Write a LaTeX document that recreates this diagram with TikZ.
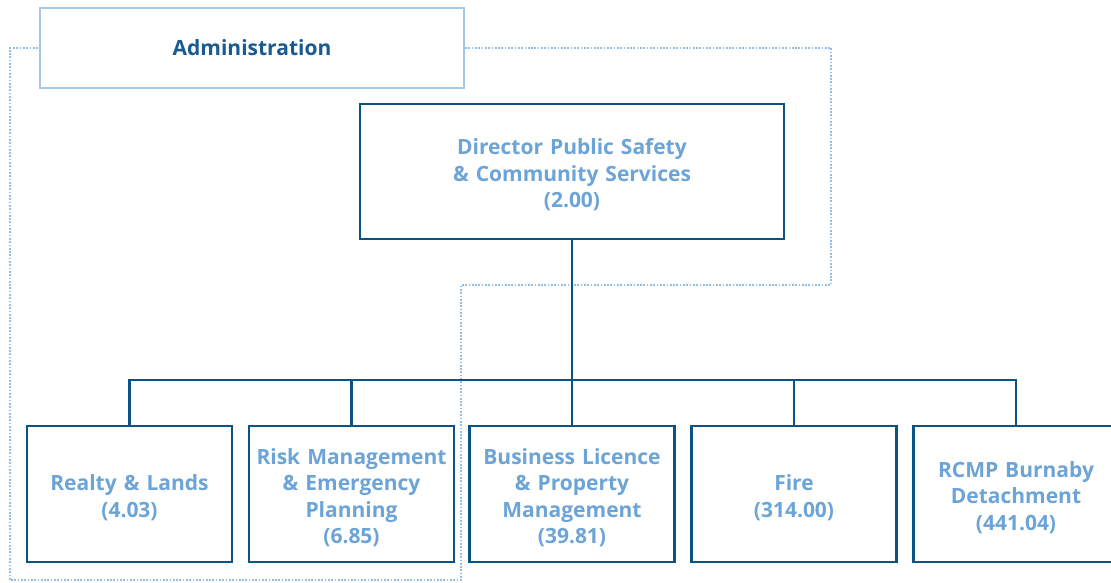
\documentclass[tikz,border=0pt]{standalone}
\usepackage{fontspec}
\setmainfont{Open Sans}
\definecolor{darkblue}{HTML}{0B5285}
\definecolor{textblue}{HTML}{6CA4D7}
\definecolor{paleblue}{HTML}{A4C8EA}
\definecolor{dotblue}{HTML}{94BDE6}
\definecolor{admintext}{HTML}{1B5A8E}
\tikzset{
  unitbox/.style={draw=darkblue, line width=2.7pt, fill=white, inner sep=0pt,
    minimum width=205pt, minimum height=136pt, text width=200pt, align=center,
    text=textblue, font=\bfseries\fontsize{21}{26.5}\selectfont,
    execute at end node={\par\vspace*{-7pt}}},
  dirbox/.style={unitbox, minimum width=424pt, minimum height=135pt, text width=400pt},
  adminbox/.style={draw=paleblue, line width=2.3pt, fill=white, inner sep=0pt,
    minimum width=424pt, minimum height=80pt, text=admintext,
    font=\bfseries\fontsize{21}{24}\selectfont},
  conn/.style={draw=darkblue, line width=2.4pt},
  dotline/.style={draw=dotblue, line width=2pt, dash pattern=on 1.7pt off 1.6pt}
}
\begin{document}
\begin{tikzpicture}[x=1pt,y=-1pt]
\useasboundingbox (0,0) rectangle (1111,582);
\clip (0,0) rectangle (1111,582);
% dotted administration loop
\coordinate (d1) at (831,48);
\coordinate (d2) at (831,285);
\coordinate (d3) at (461,285);
\coordinate (d4) at (461,580);
\coordinate (d5) at (10,580);
\coordinate (d6) at (10,48);
\node[adminbox] (admin) at (252,48) {Administration};
\draw[dotline] (admin.east) -- (d1) -- (d2) -- (d3) -- (d4) -- (d5) -- (d6) -- (admin.west);
\node[adminbox] at (252,48) {Administration};
% director
\node[dirbox] (dir) at (572,171.5) {Director Public Safety\\\& Community Services\\(2.00)};
% units
\node[unitbox] (b1) at (129.5,494) {Realty \& Lands\\(4.03)};
\node[unitbox] (b2) at (351.5,494) {Risk Management\\\& Emergency\\Planning\\(6.85)};
\node[unitbox] (b3) at (572,494) {Business Licence\\\& Property\\Management\\(39.81)};
\node[unitbox] (b4) at (794,494) {Fire\\(314.00)};
\node[unitbox] (b5) at (1016,494) {RCMP Burnaby\\Detachment\\(441.04)};
% connectors
\coordinate (bus) at (572,380);
\draw[conn] (dir.south) -- (bus);
\draw[conn] (b1.north) -- (b1.north |- bus) -- (b5.north |- bus) -- (b5.north);
\draw[conn] (b2.north) -- (b2.north |- bus);
\draw[conn] (b3.north) -- (b3.north |- bus);
\draw[conn] (b4.north) -- (b4.north |- bus);
\end{tikzpicture}
\end{document}
